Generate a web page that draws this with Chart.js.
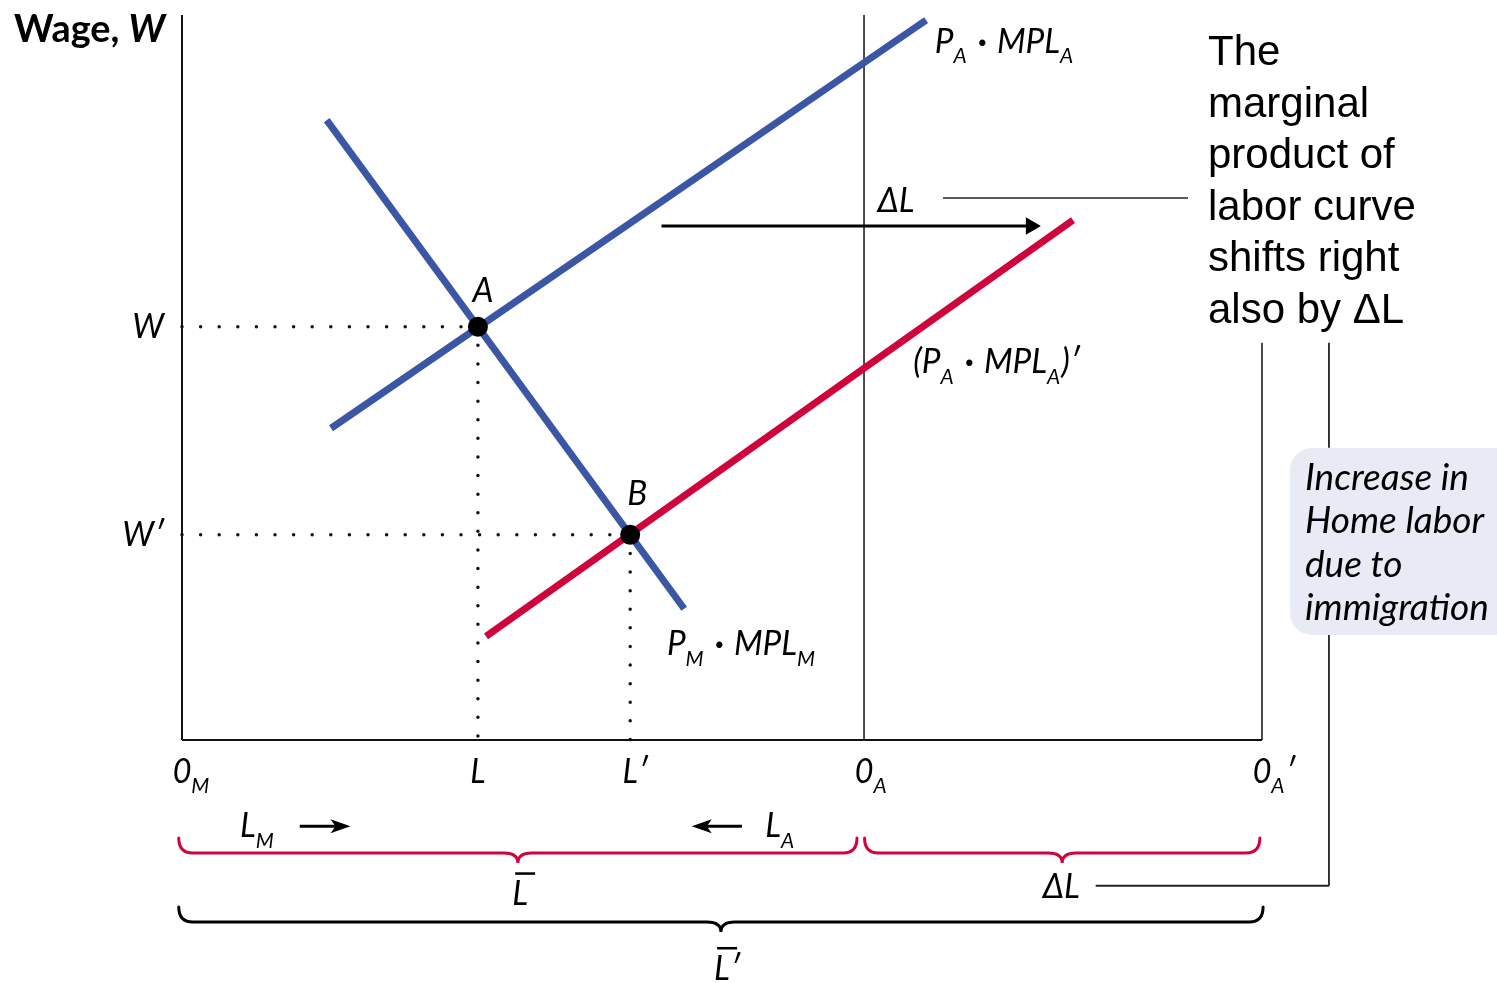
<!DOCTYPE html>
<html>
<head>
<meta charset="utf-8">
<script src="https://cdn.jsdelivr.net/npm/chart.js@4.4.0/dist/chart.umd.min.js"></script>
<style>
html, body { margin: 0; padding: 0; background: #fff; }
#wrap { width: 1497px; height: 983px; }
</style>
</head>
<body>
<div id="wrap"><canvas id="labor-chart" width="1497" height="983"></canvas></div>
<script>
// labor axis runs 0 (0_M) .. 100 (0_A'), wage axis 0 .. 100
var laborTicks = [0, 27.4, 41.5, 63.15, 100];
var laborTickNames = ['0_M', 'L', 'L′', '0_A', '0_A′'];
var wageTicks = [57.0, 28.3];
var wageTickNames = ['W', 'W′'];

// marginal product curves (end points)
var mplHomeX = [13.4, 46.5];
var mplHomeY = [85.5, 18.1];
var mplForeignX = [13.8, 68.9];
var mplForeignY = [43.0, 99.3];
var mplForeignNewX = [28.15, 82.5];
var mplForeignNewY = [14.3, 71.7];

// equilibria A and B
var equilibriumNames = ['A', 'B'];
var equilibriumX = [27.4, 41.5];
var equilibriumY = [57.0, 28.3];

// shift of the foreign curve
var shiftArrowX = [44.4, 78.6];
var shiftArrowY = 70.9;

// direction arrows under the axis (from, to)
var flowArrowsX = [[10.9, 15.6], [51.85, 47.2]];
var flowArrowY = -11.9;

// braces under the axis
var braceSpans = [[-0.3, 62.5], [63.2, 99.8], [-0.3, 100.1]];
var braceLevels = [-15.6, -15.6, -25.1];

var blue = '#3b56a5';
var red = '#d0043c';
var ink = '#111';
var italicFont = 'Lato';

function pairs(xs, ys) {
    return xs.map(function (x, i) { return { x: x, y: ys[i] }; });
}
function seg(x1, y1, x2, y2) {
    return [{ x: x1, y: y1 }, { x: x2, y: y2 }];
}
function line(data, color, width, order, extra) {
    var ds = {
        data: data,
        showLine: true,
        borderColor: color,
        borderWidth: width,
        pointRadius: 0,
        order: order,
        clip: false
    };
    for (var k in extra) ds[k] = extra[k];
    return ds;
}
var dotted = { borderDash: [0, 18.6], borderCapStyle: 'round' };

var datasets = [
    // axes and frame
    line(seg(0, 0, 0, 100), ink, 2, 9),
    line(seg(0, 0, 100, 0), ink, 2, 9),
    line(seg(63.15, 0, 63.15, 100), ink, 1.5, 9),
    line(seg(100, 0, 100, 54.8), ink, 1.5, 9),
    // dotted guides
    line(seg(0, wageTicks[0], equilibriumX[0], equilibriumY[0]), ink, 3.5, 8, dotted),
    line(seg(equilibriumX[0], equilibriumY[0], laborTicks[1], 0), ink, 3.5, 8, dotted),
    line(seg(0, wageTicks[1], equilibriumX[1], equilibriumY[1]), ink, 3.5, 8, dotted),
    line(seg(equilibriumX[1], equilibriumY[1], laborTicks[2], 0), ink, 3.5, 8, dotted),
    // curves
    line(pairs(mplForeignNewX, mplForeignNewY), red, 7, 5),
    line(pairs(mplForeignX, mplForeignY), blue, 7, 4),
    line(pairs(mplHomeX, mplHomeY), blue, 7, 4),
    // shift arrow
    line([{ x: shiftArrowX[0], y: shiftArrowY }, { x: shiftArrowX[1], y: shiftArrowY }], '#000', 3, 3,
        { pointRadius: [0, 10], pointStyle: 'triangle', rotation: 90, pointBackgroundColor: '#000', pointBorderWidth: 0 }),
    // leader lines
    line(seg(70.46, 74.75, 93.15, 74.75), '#222', 1.5, 9),
    line(seg(106.2, 54.8, 106.2, 40.3), '#222', 1.8, 9),
    line(seg(106.2, 14.5, 106.2, -20.1), '#222', 1.8, 9),
    line(seg(106.2, -20.1, 84.6, -20.1), '#222', 1.8, 9),
    // equilibrium points
    {
        data: pairs(equilibriumX, equilibriumY),
        pointRadius: 10,
        pointBackgroundColor: '#000',
        pointBorderWidth: 0,
        order: 1
    }
];

// split "P_A · MPL_A" into [text, kind] with kind n (normal), s (subscript), d (dot)
function richParts(str) {
    var out = [];
    str.split(' · ').forEach(function (chunk, ci) {
        if (ci > 0) out.push([' · ', 'd']);
        var parts = chunk.split('_');
        if (parts[0]) out.push([parts[0], 'n']);
        for (var i = 1; i < parts.length; i++) {
            out.push([parts[i].charAt(0), 's']);
            if (parts[i].length > 1) out.push([parts[i].slice(1), 'n']);
        }
    });
    return out;
}

function partFont(kind, size) {
    var sub = Math.round(size * 0.64);
    if (kind === 's') return 'italic ' + sub + 'px ' + italicFont;
    if (kind === 'd') return 'bold ' + size + 'px ' + italicFont;
    return 'italic ' + size + 'px ' + italicFont;
}

// draws text with single-letter subscripts; align 'left', 'right' or 'first' (first glyph centred on x)
function drawRich(ctx, str, x, y, size, align, squeeze) {
    var parts = richParts(str);
    squeeze = squeeze || 0.95;
    var widths = parts.map(function (p) {
        ctx.font = partFont(p[1], size);
        return ctx.measureText(p[0]).width * squeeze + (p[1] === 's' ? 1 : 0) + (p[1] === 'd' ? 4 : 0);
    });
    var start = x;
    if (align === 'first') {
        ctx.font = partFont('n', size);
        start = x - ctx.measureText(parts[0][0].charAt(0)).width * squeeze / 2;
    } else if (align === 'right') {
        start = x - widths.reduce(function (a, b) { return a + b; }, 0);
    }
    var cx = start;
    parts.forEach(function (p, i) {
        ctx.save();
        ctx.font = partFont(p[1], size);
        ctx.translate(cx + (p[1] === 'd' ? 2 : 0), y + (p[1] === 's' ? size * 0.3 : 0));
        ctx.scale(squeeze, 1);
        ctx.fillText(p[0], 0, 0);
        ctx.restore();
        cx += widths[i];
    });
    return start;
}

function drawBrace(ctx, x1, x2, y, h, c, color) {
    var xm = (x1 + x2) / 2, r = 14;
    ctx.save();
    ctx.strokeStyle = color;
    ctx.lineWidth = 3;
    ctx.lineCap = 'round';
    ctx.beginPath();
    ctx.moveTo(x1, y - h);
    ctx.quadraticCurveTo(x1, y, x1 + r, y);
    ctx.lineTo(xm - r, y);
    ctx.quadraticCurveTo(xm, y, xm, y + c);
    ctx.quadraticCurveTo(xm, y, xm + r, y);
    ctx.lineTo(x2 - r, y);
    ctx.quadraticCurveTo(x2, y, x2, y - h);
    ctx.stroke();
    ctx.restore();
}

function drawArrow(ctx, x1, x2, y) {
    var dir = x2 > x1 ? 1 : -1;
    ctx.save();
    ctx.strokeStyle = '#000';
    ctx.fillStyle = '#000';
    ctx.lineWidth = 3;
    ctx.beginPath();
    ctx.moveTo(x1, y);
    ctx.lineTo(x2 - dir * 10, y);
    ctx.stroke();
    ctx.beginPath();
    ctx.moveTo(x2, y);
    ctx.lineTo(x2 - dir * 20, y - 7);
    ctx.lineTo(x2 - dir * 15, y);
    ctx.lineTo(x2 - dir * 20, y + 7);
    ctx.closePath();
    ctx.fill();
    ctx.restore();
}

var curveLabels = [
    { text: 'P_A · MPL_A', x: 69.7, y: 94.8 },
    { text: '(P_A · MPL_A)′', x: 67.7, y: 50.6 },
    { text: 'P_M · MPL_M', x: 44.9, y: 11.7 },
    { text: 'ΔL', x: 64.4, y: 72.8 },
    { text: 'L_M', x: 5.37, y: -13.4 },
    { text: 'L_A', x: 54.0, y: -13.4 },
    { text: 'ΔL', x: 79.7, y: -21.8 }
];

var diagramText = {
    id: 'diagramText',
    afterDatasetsDraw: function (chart) {
        var ctx = chart.ctx, xs = chart.scales.x, ys = chart.scales.y;
        var size = 35;
        ctx.save();
        ctx.fillStyle = '#000';
        ctx.textBaseline = 'alphabetic';

        // braces
        braceSpans.forEach(function (s, i) {
            drawBrace(ctx, xs.getPixelForValue(s[0]), xs.getPixelForValue(s[1]),
                ys.getPixelForValue(braceLevels[i]), 15, 10, i < 2 ? red : '#000');
        });

        // flow arrows
        flowArrowsX.forEach(function (a) {
            drawArrow(ctx, xs.getPixelForValue(a[0]), xs.getPixelForValue(a[1]), ys.getPixelForValue(flowArrowY));
        });

        // labor tick labels
        laborTicks.forEach(function (v, i) {
            drawRich(ctx, laborTickNames[i], xs.getPixelForValue(v), ys.getPixelForValue(0) + 43, 34, 'first', 0.95);
        });
        // wage tick labels
        wageTicks.forEach(function (v, i) {
            drawRich(ctx, wageTickNames[i], xs.getPixelForValue(0) - 18, ys.getPixelForValue(v) + 11, 35, 'right', 0.95);
        });

        // points
        equilibriumNames.forEach(function (n, i) {
            var px = xs.getPixelForValue(equilibriumX[i]), py = ys.getPixelForValue(equilibriumY[i]);
            drawRich(ctx, n, px + (i ? 7 : 5), py - 25 - (i ? 5 : 0), 35, 'first', 0.95);
        });

        curveLabels.forEach(function (l) {
            drawRich(ctx, l.text, xs.getPixelForValue(l.x), ys.getPixelForValue(l.y), size, 'left', 0.95);
        });

        // L bar and L bar prime
        [[31.3, -22.8, 'L'], [50.0, -33.1, 'L′']].forEach(function (b) {
            var bx = xs.getPixelForValue(b[0]), by = ys.getPixelForValue(b[1]);
            var left = drawRich(ctx, b[2], bx, by, size, 'first', 0.95);
            ctx.fillRect(left + 3, by - 33, 20, 2.5);
        });

        // y axis title
        ctx.save();
        ctx.translate(14, 42);
        ctx.scale(0.97, 1);
        ctx.font = 'bold 39px Lato';
        ctx.fillText('Wage, ', 0, 0);
        var ww = ctx.measureText('Wage, ').width;
        ctx.font = 'italic bold 39px Lato';
        ctx.fillText('W', ww, 0);
        ctx.restore();

        // note box, top right
        ctx.fillStyle = '#fff';
        ctx.fillRect(1190, 20, 307, 322);
        ctx.fillStyle = '#000';
        ctx.font = '42px "Liberation Sans", Arial, sans-serif';
        ['The', 'marginal', 'product of', 'labor curve', 'shifts right', 'also by ΔL'].forEach(function (t, i) {
            ctx.fillText(t, 1208, 65 + i * 51.5);
        });

        // immigration box
        ctx.fillStyle = '#e8eaf5';
        ctx.beginPath();
        ctx.roundRect(1290, 448, 230, 187, 22);
        ctx.fill();
        ctx.fillStyle = '#000';
        ctx.font = 'italic 37px ' + italicFont;
        ['Increase in', 'Home labor', 'due to', 'immigration'].forEach(function (t, i) {
            ctx.fillText(t, 1305, 490 + i * 43.3);
        });
        ctx.restore();
    }
};

var ctx = document.getElementById('labor-chart');
new Chart(ctx, {
    type: 'scatter',
    data: { datasets: datasets },
    options: {
        responsive: false,
        animation: false,
        events: [],
        layout: { padding: { left: 182, right: 235, top: 15, bottom: 243 } },
        scales: {
            x: { type: 'linear', min: 0, max: 100, display: false },
            y: { type: 'linear', min: 0, max: 100, display: false }
        },
        plugins: { legend: { display: false }, tooltip: { enabled: false } }
    },
    plugins: [diagramText]
});
</script>
</body>
</html>
